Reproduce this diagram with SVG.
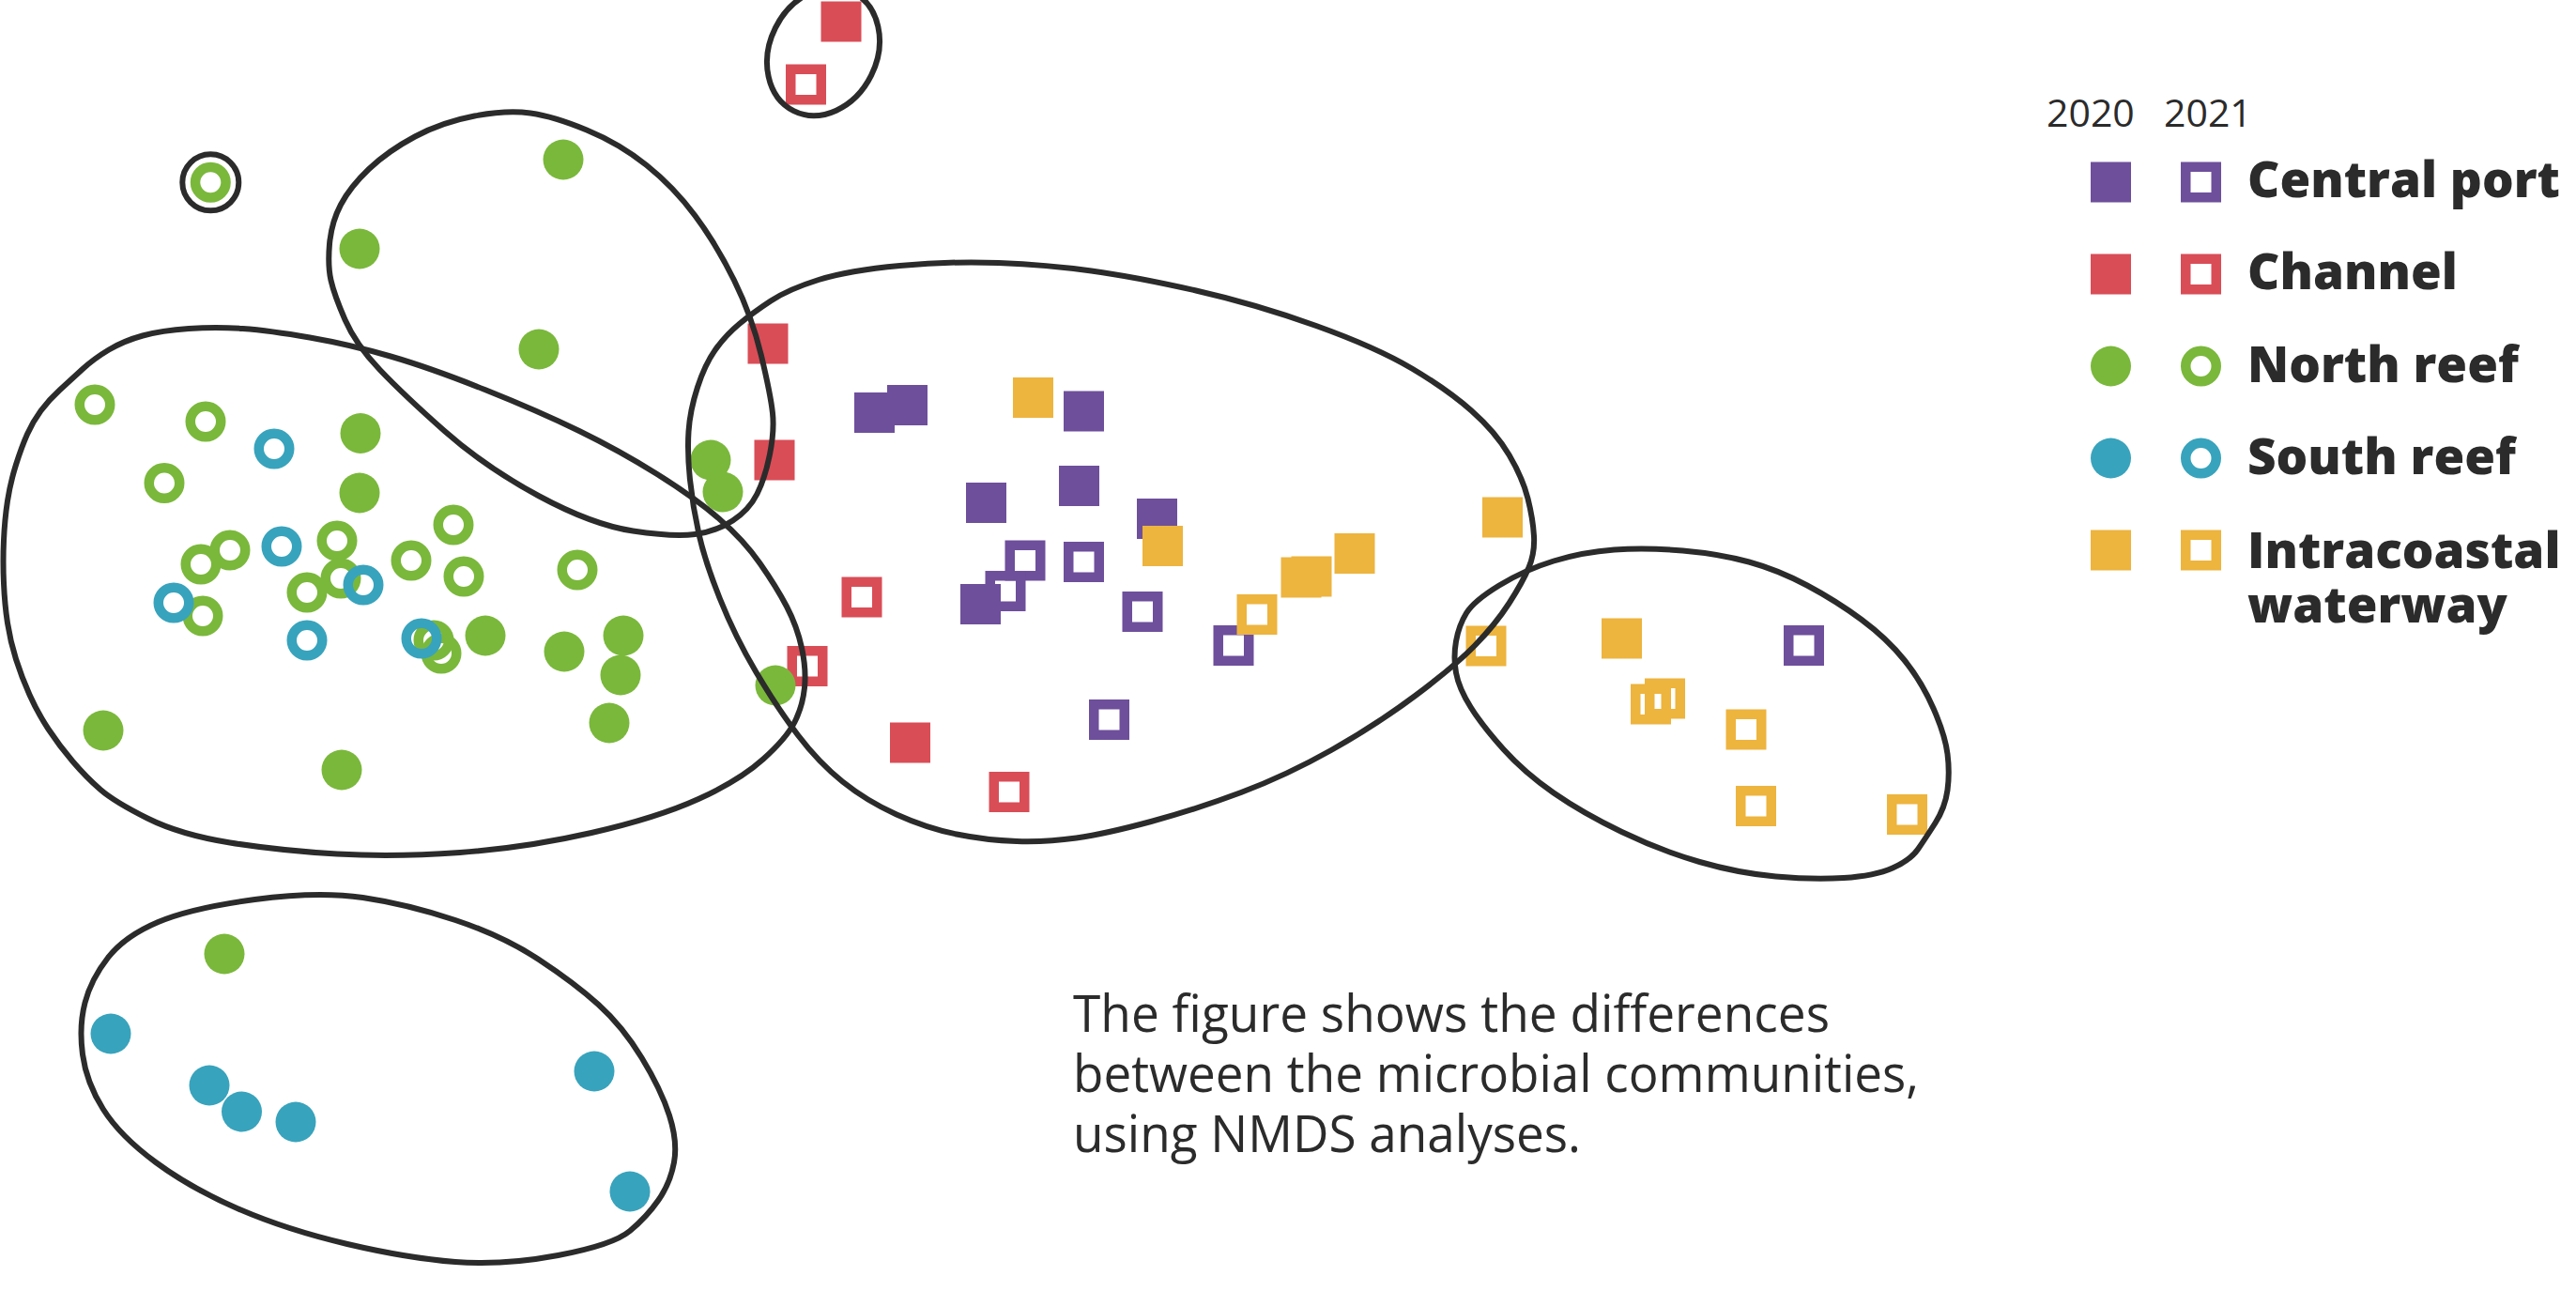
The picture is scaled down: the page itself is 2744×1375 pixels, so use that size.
<svg xmlns="http://www.w3.org/2000/svg" xmlns:xlink="http://www.w3.org/1999/xlink" width="2744" height="1375" viewBox="0 0 2744 1375">
<style>
.bg{fill:#ffffff}
.cpf{fill:#6e4f9b}.cpo{fill:none;stroke:#6e4f9b;stroke-width:10.5}
.chf{fill:#d94d57}.cho{fill:none;stroke:#d94d57;stroke-width:10.5}
.nrf{fill:#7ab83b}.nro{fill:none;stroke:#7ab83b;stroke-width:10.5}
.srf{fill:#38a3bc}.sro{fill:none;stroke:#38a3bc;stroke-width:10.5}
.icf{fill:#edb43e}.ico{fill:none;stroke:#edb43e;stroke-width:10.5}
.hull{fill:none;stroke:#2b2b2b;stroke-width:6;stroke-linejoin:round}
.yr{font-family:"Open Sans","Noto Sans","Liberation Sans",sans-serif;font-size:41px;fill:#2b2b2b}
.lab{font-family:"Open Sans","Noto Sans","Liberation Sans",sans-serif;font-size:53px;font-weight:800;fill:#2b2b2b}
.cap{font-family:"Open Sans","Noto Sans","Liberation Sans",sans-serif;font-size:55px;fill:#2b2b2b}
</style>
<defs>
<rect id="fs" x="-21.5" y="-21.5" width="43" height="43"/>
<rect id="os" x="-16.25" y="-16.25" width="32.5" height="32.5"/>
<circle id="fc" r="21.5"/>
<circle id="oc" r="16.25"/>
</defs>
<rect class="bg" x="0" y="0" width="2744" height="1375"/>

<g id="points">
<g id="central-port-2021" class="cpo">
<use xlink:href="#os" x="1092" y="597"/>
<use xlink:href="#os" x="1154.5" y="598.5"/>
<use xlink:href="#os" x="1071" y="629.5"/>
<use xlink:href="#os" x="1217" y="651.5"/>
<use xlink:href="#os" x="1314" y="687.5"/>
<use xlink:href="#os" x="1181.5" y="766.5"/>
<use xlink:href="#os" x="1921.5" y="687.5"/>
</g>
<g id="central-port-2020" class="cpf">
<use xlink:href="#fs" x="931.5" y="439.5"/>
<use xlink:href="#fs" x="966.5" y="431.5"/>
<use xlink:href="#fs" x="1154.5" y="438"/>
<use xlink:href="#fs" x="1050.5" y="535.5"/>
<use xlink:href="#fs" x="1149.5" y="517.5"/>
<use xlink:href="#fs" x="1232.5" y="552.5"/>
<use xlink:href="#fs" x="1044.5" y="643.5"/>
</g>
<g id="channel-2020" class="chf">
<use xlink:href="#fs" x="896" y="23"/>
<use xlink:href="#fs" x="818" y="366"/>
<use xlink:href="#fs" x="825" y="490"/>
<use xlink:href="#fs" x="969.5" y="791"/>
</g>
<g id="channel-2021" class="cho">
<use xlink:href="#os" x="858.5" y="90"/>
<use xlink:href="#os" x="918" y="636"/>
<use xlink:href="#os" x="860" y="709.5"/>
<use xlink:href="#os" x="1075" y="843.5"/>
</g>
<g id="intracoastal-2020" class="icf">
<use xlink:href="#fs" x="1100.5" y="423.5"/>
<use xlink:href="#fs" x="1238.5" y="581.5"/>
<use xlink:href="#fs" x="1386" y="615"/>
<use xlink:href="#fs" x="1397" y="614"/>
<use xlink:href="#fs" x="1443" y="589.5"/>
<use xlink:href="#fs" x="1600.5" y="551"/>
<use xlink:href="#fs" x="1727.5" y="680"/>
</g>
<g id="intracoastal-2021" class="ico">
<use xlink:href="#os" x="1339" y="654.5"/>
<use xlink:href="#os" x="1583" y="688"/>
<use xlink:href="#os" x="1758.5" y="750"/>
<use xlink:href="#os" x="1773.5" y="744"/>
<use xlink:href="#os" x="1860" y="777"/>
<use xlink:href="#os" x="1870.5" y="858.5"/>
<use xlink:href="#os" x="2031.5" y="867.5"/>
</g>
<g id="north-reef-2020" class="nrf">
<use xlink:href="#fc" x="600" y="170"/>
<use xlink:href="#fc" x="383" y="265"/>
<use xlink:href="#fc" x="574" y="372"/>
<use xlink:href="#fc" x="384" y="461.5"/>
<use xlink:href="#fc" x="383" y="525"/>
<use xlink:href="#fc" x="757" y="490"/>
<use xlink:href="#fc" x="770" y="524"/>
<use xlink:href="#fc" x="826" y="730"/>
<use xlink:href="#fc" x="517" y="677"/>
<use xlink:href="#fc" x="601" y="694"/>
<use xlink:href="#fc" x="664" y="677"/>
<use xlink:href="#fc" x="661" y="719"/>
<use xlink:href="#fc" x="649" y="770"/>
<use xlink:href="#fc" x="110" y="778"/>
<use xlink:href="#fc" x="364" y="820"/>
<use xlink:href="#fc" x="239" y="1016"/>
</g>
<g id="north-reef-2021" class="nro">
<use xlink:href="#oc" x="224.3" y="194.3"/>
<use xlink:href="#oc" x="101" y="431"/>
<use xlink:href="#oc" x="219" y="449"/>
<use xlink:href="#oc" x="175" y="514.5"/>
<use xlink:href="#oc" x="483" y="559"/>
<use xlink:href="#oc" x="245" y="586"/>
<use xlink:href="#oc" x="214" y="601"/>
<use xlink:href="#oc" x="359" y="576"/>
<use xlink:href="#oc" x="438" y="597"/>
<use xlink:href="#oc" x="494" y="614"/>
<use xlink:href="#oc" x="615" y="607"/>
<use xlink:href="#oc" x="363" y="616"/>
<use xlink:href="#oc" x="327" y="631"/>
<use xlink:href="#oc" x="216" y="656"/>
<use xlink:href="#oc" x="462" y="682"/>
<use xlink:href="#oc" x="470" y="696"/>
</g>
<g id="south-reef-2020" class="srf">
<use xlink:href="#fc" x="118" y="1101"/>
<use xlink:href="#fc" x="223" y="1156"/>
<use xlink:href="#fc" x="257.5" y="1184"/>
<use xlink:href="#fc" x="315" y="1195"/>
<use xlink:href="#fc" x="633" y="1141"/>
<use xlink:href="#fc" x="671" y="1269"/>
</g>
<g id="south-reef-2021" class="sro">
<use xlink:href="#oc" x="292" y="478"/>
<use xlink:href="#oc" x="300" y="582"/>
<use xlink:href="#oc" x="387" y="623"/>
<use xlink:href="#oc" x="185" y="642"/>
<use xlink:href="#oc" x="327" y="682"/>
<use xlink:href="#oc" x="449" y="680"/>
</g>
</g>

<g id="connectors" class="hull">
<path id="hull-top" d="M352.5,298.5 Q349,283 351,260 Q353,237 363,218 Q373,199 393,180 Q413,161 442,145.5 Q471,130 505.5,123.5 Q540,117 565,120.5 Q590,124 625,138.5 Q660,153 688.75,176 Q717.5,199 740.25,229.5 Q763,260 782,298.5 Q801,337 811,379 Q821,421 823,440 Q825,459 820,484 Q815,509 806.5,526 Q798,543 780.5,554.5 Q763,566 740.25,569 Q717.5,572 674.25,565.5 Q631,559 574,528.25 Q517,497.5 473.75,459.25 Q430.5,421 404.75,394 Q379,367 367.5,340.5 Q356,314 352.5,298.5 Z"/>
<path id="hull-left" d="M201,350 Q230,348 258.5,350 Q287,352 330,359.5 Q373,367 416,379.5 Q459,392 516.5,415 Q574,438 617,459 Q660,480 700,505 Q740,530 766,552.5 Q792,575 809.5,600 Q827,625 838,646 Q849,667 854,690 Q859,713 857,732.5 Q855,752 846.5,769 Q838,786 813,808.5 Q788,831 744,851 Q700,871 630,887 Q560,903 490,908 Q420,913 359,909.5 Q298,906 245,897.5 Q192,889 157,871.5 Q122,854 107,841 Q92,828 77.5,811 Q63,794 51.5,776.5 Q40,759 31.5,740 Q23,721 17,702 Q11,683 8,663.5 Q5,644 4,621 Q3,598 4,575.5 Q5,553 8,533.5 Q11,514 17,495 Q23,476 29,462.5 Q35,449 43.5,437.5 Q52,426 63.5,415.5 Q75,405 87.5,393.5 Q100,382 116,372.5 Q132,363 152,357.5 Q172,352 201,350 Z"/>
<path id="hull-center" d="M958.5,283 Q1013,278 1064,280 Q1115,282 1162.5,288.5 Q1210,295 1274,309.5 Q1338,324 1402,347 Q1466,370 1504,392.5 Q1542,415 1567.5,437.5 Q1593,460 1607.5,484.5 Q1622,509 1627.5,531 Q1633,553 1634,571 Q1635,589 1628.5,604.5 Q1622,620 1607.5,642.5 Q1593,665 1571,687.5 Q1549,710 1507.5,741 Q1466,772 1418,799 Q1370,826 1322,844 Q1274,862 1226,875 Q1178,888 1146.5,892.5 Q1115,897 1083,896 Q1051,895 1019,888.5 Q987,882 955,867.5 Q923,853 897.5,832.5 Q872,812 850,783 Q828,754 805.5,716 Q783,678 767,638 Q751,598 744.5,569 Q738,540 735,511 Q732,482 733.5,459.5 Q735,437 743,412.5 Q751,388 762,372.5 Q773,357 787.5,345 Q802,333 821,320.5 Q840,308 872,298 Q904,288 958.5,283 Z"/>
<path id="hull-right" d="M1719.5,585.5 Q1753,583 1792.5,586.5 Q1832,590 1863,598.5 Q1894,607 1925,623.5 Q1956,640 1983,660 Q2010,680 2028.5,703 Q2047,726 2059.5,754.5 Q2072,783 2074.5,803 Q2077,823 2074.5,841.5 Q2072,860 2061.5,876.5 Q2051,893 2043,904.5 Q2035,916 2016,924.5 Q1997,933 1964,935 Q1931,937 1891.5,933.5 Q1852,930 1810.5,918 Q1769,906 1727.5,886 Q1686,866 1655,844.5 Q1624,823 1601.5,798 Q1579,773 1566.5,753 Q1554,733 1551,716.5 Q1548,700 1551,683 Q1554,666 1562,653 Q1570,640 1597,623.5 Q1624,607 1655,597.5 Q1686,588 1719.5,585.5 Z"/>
<path id="hull-bottom" d="M271.5,958 Q339,949 386.5,956 Q434,963 485,980 Q536,997 574,1022 Q612,1047 637.5,1070 Q663,1093 683.5,1126.5 Q704,1160 713,1188 Q722,1216 718,1238 Q714,1260 701.5,1278 Q689,1296 671,1311 Q653,1326 594.5,1337 Q536,1348 485,1344 Q434,1340 370,1325 Q306,1310 255,1288 Q204,1266 166,1238 Q128,1210 110,1181.5 Q92,1153 88,1123 Q84,1093 90.5,1068 Q97,1043 115,1020 Q133,997 168.5,982 Q204,967 271.5,958 Z"/>
<ellipse id="hull-channel-top" cx="877" cy="55" rx="70.6" ry="57" transform="rotate(-63.5 877 55)"/>
<circle id="hull-single" cx="224.3" cy="194.3" r="30"/>
</g>

<g id="legend">
<text class="yr" x="2180" y="135">2020</text>
<text class="yr" x="2305" y="135">2021</text>
<g id="legend-central-port">
<use xlink:href="#fs" x="2248.5" y="194" class="cpf"/>
<use xlink:href="#os" x="2344.5" y="194" class="cpo"/>
<text class="lab" x="2394" y="210">Central port</text>
</g>
<g id="legend-channel">
<use xlink:href="#fs" x="2248.5" y="292" class="chf"/>
<use xlink:href="#os" x="2344.5" y="292" class="cho"/>
<text class="lab" x="2394" y="308">Channel</text>
</g>
<g id="legend-north-reef">
<use xlink:href="#fc" x="2248.5" y="390" class="nrf"/>
<use xlink:href="#oc" x="2344.5" y="390" class="nro"/>
<text class="lab" x="2394" y="407">North reef</text>
</g>
<g id="legend-south-reef">
<use xlink:href="#fc" x="2248.5" y="488" class="srf"/>
<use xlink:href="#oc" x="2344.5" y="488" class="sro"/>
<text class="lab" x="2394" y="505">South reef</text>
</g>
<g id="legend-intracoastal">
<use xlink:href="#fs" x="2248.5" y="586" class="icf"/>
<use xlink:href="#os" x="2344.5" y="586" class="ico"/>
<text class="lab" x="2394" y="604.6">Intracoastal</text>
<text class="lab" x="2394" y="662.6">waterway</text>
</g>
</g>

<g id="caption">
<text class="cap" x="1143" y="1099" textLength="806" lengthAdjust="spacingAndGlyphs">The figure shows the differences</text>
<text class="cap" x="1143" y="1163" textLength="901" lengthAdjust="spacingAndGlyphs">between the microbial communities,</text>
<text class="cap" x="1143" y="1227" textLength="541" lengthAdjust="spacingAndGlyphs">using NMDS analyses.</text>
</g>
</svg>
